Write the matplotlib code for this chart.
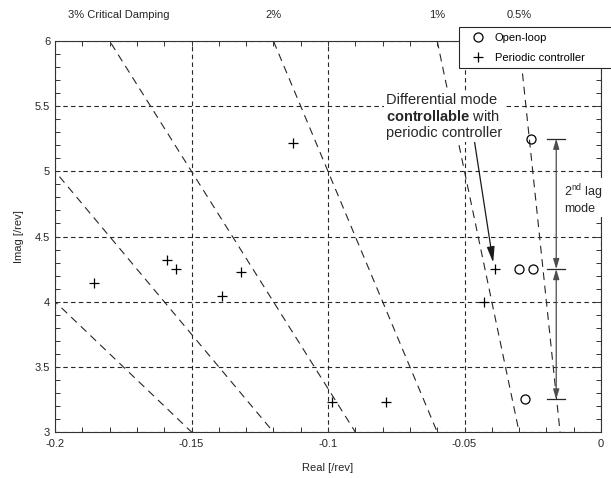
import numpy as np
import matplotlib
matplotlib.use('Agg')
import matplotlib.pyplot as plt
from matplotlib.ticker import MultipleLocator

plt.rcParams['font.family'] = 'Liberation Sans'
plt.rcParams['mathtext.fontset'] = 'custom'
plt.rcParams['mathtext.rm'] = 'Liberation Sans'
plt.rcParams['mathtext.bf'] = 'Liberation Sans:bold'

# Data
open_re = [-0.0257, -0.030, -0.025, -0.028]
open_im = [5.25, 4.25, 4.25, 3.25]
ctrl_re = [-0.113, -0.1857, -0.159, -0.1556, -0.1388, -0.132,
           -0.0984, -0.0787, -0.0427, -0.039]
ctrl_im = [5.22, 4.14, 4.32, 4.25, 4.04, 4.23, 3.23, 3.23, 4.00, 4.25]

damping = [0.05, 0.04, 0.03, 0.02, 0.01, 0.005]
damp_labels = {0.03: '3% Critical Damping', 0.02: '2%', 0.01: '1%', 0.005: '0.5%'}

xticks = [-0.2, -0.15, -0.1, -0.05, 0]
xticklabels = ['-0.2', '-0.15', '-0.1', '-0.05', '0']
yticks = [3, 3.5, 4, 4.5, 5, 5.5, 6]
yticklabels = ['3', '3.5', '4', '4.5', '5', '5.5', '6']

lag_levels = [5.25, 4.25, 3.25]
lag_x = -0.0164

fs = 8

fig = plt.figure(figsize=(6.11, 4.78), dpi=100)
ax = fig.add_axes([55 / 611, 46 / 478, 546 / 611, 391 / 478])
ax.set_xlim(-0.2, 0)
ax.set_ylim(3, 6)

# ticks / grid
ax.set_xticks(xticks)
ax.set_xticklabels(xticklabels)
ax.set_yticks(yticks)
ax.set_yticklabels(yticklabels)
ax.xaxis.set_minor_locator(MultipleLocator(0.01))
ax.yaxis.set_minor_locator(MultipleLocator(0.1))
ax.tick_params(which='both', direction='in', top=True, right=True,
               labelsize=fs, labelcolor='0.15', color='0.2', width=0.7,
               length=3.5)
ax.tick_params(axis='x', pad=5)
ax.grid(True, which='major', color='0.15', linestyle=(0, (4, 3)), linewidth=0.8)
for s in ax.spines.values():
    s.set_linewidth(0.8)
    s.set_color('0.2')

# constant damping lines
im = np.array([0, 7])
for d in damping:
    ax.plot(-d * im, im, color='0.15', linestyle=(0, (7, 5)), linewidth=0.8)
    if d in damp_labels:
        xt = -d * 6
        if d == 0.03:
            xt = -0.1765
        ax.text(xt, 6.2, damp_labels[d], ha='center', va='center',
                fontsize=fs, color='0.15', clip_on=False)

ax.plot(open_re, open_im, linestyle='none', marker='o', markersize=6.5,
        markerfacecolor='none', markeredgecolor='black', markeredgewidth=0.9,
        label='Open-loop')
ax.plot(ctrl_re, ctrl_im, linestyle='none', marker='+', markersize=7.5,
        color='black', markeredgewidth=0.9, label='Periodic controller')

ax.set_xlabel('Real [/rev]', fontsize=fs, color='0.15', labelpad=10)
ax.set_ylabel('Imag [/rev]', fontsize=fs, color='0.15', labelpad=8)

leg = ax.legend(loc='upper left', mode='expand',
                bbox_to_anchor=(459 / 611, 1 - 68 / 478, 200 / 611, 41 / 478),
                bbox_transform=fig.transFigure, fontsize=fs, fancybox=False,
                framealpha=1, edgecolor='0.15', borderpad=0.5,
                handletextpad=0.3, labelspacing=0.9, handlelength=2.4,
                borderaxespad=0)
leg.get_frame().set_linewidth(0.8)
leg.set_zorder(10)

# annotation for the differential mode
ax.annotate('Differential mode\n$\\bf{controllable}$ with\nperiodic controller',
            xy=(-0.0395, 4.30), xytext=(-0.0788, 5.42),
            fontsize=10.5, color='0.15', ha='left', va='center',
            linespacing=1.15,
            bbox=dict(facecolor='white', edgecolor='none', pad=1.5),
            arrowprops=dict(arrowstyle='-|>,head_length=0.9,head_width=0.22',
                            color='0.1', linewidth=0.9, shrinkA=0, shrinkB=0,
                            relpos=(0.76, 0.0)),
            zorder=6)

# 2nd lag mode bars and arrows
for lv in lag_levels:
    ax.plot([-0.0197, -0.0131], [lv, lv], color='0.15', linewidth=0.9)
for y0, y1 in zip(lag_levels[:-1], lag_levels[1:]):
    ax.annotate('', xy=(lag_x, y1), xytext=(lag_x, y0),
                arrowprops=dict(arrowstyle='<|-|>,head_length=0.6,head_width=0.18',
                                color='0.3', linewidth=0.9,
                                shrinkA=0, shrinkB=0))
ax.text(-0.0135, 4.79, '2$^{\\rm nd}$ lag\nmode', fontsize=9, color='0.15',
        ha='left', va='center', linespacing=1.05, clip_on=False,
        bbox=dict(facecolor='white', edgecolor='none', pad=1.5), zorder=7)

fig.savefig('out.png', dpi=100)
